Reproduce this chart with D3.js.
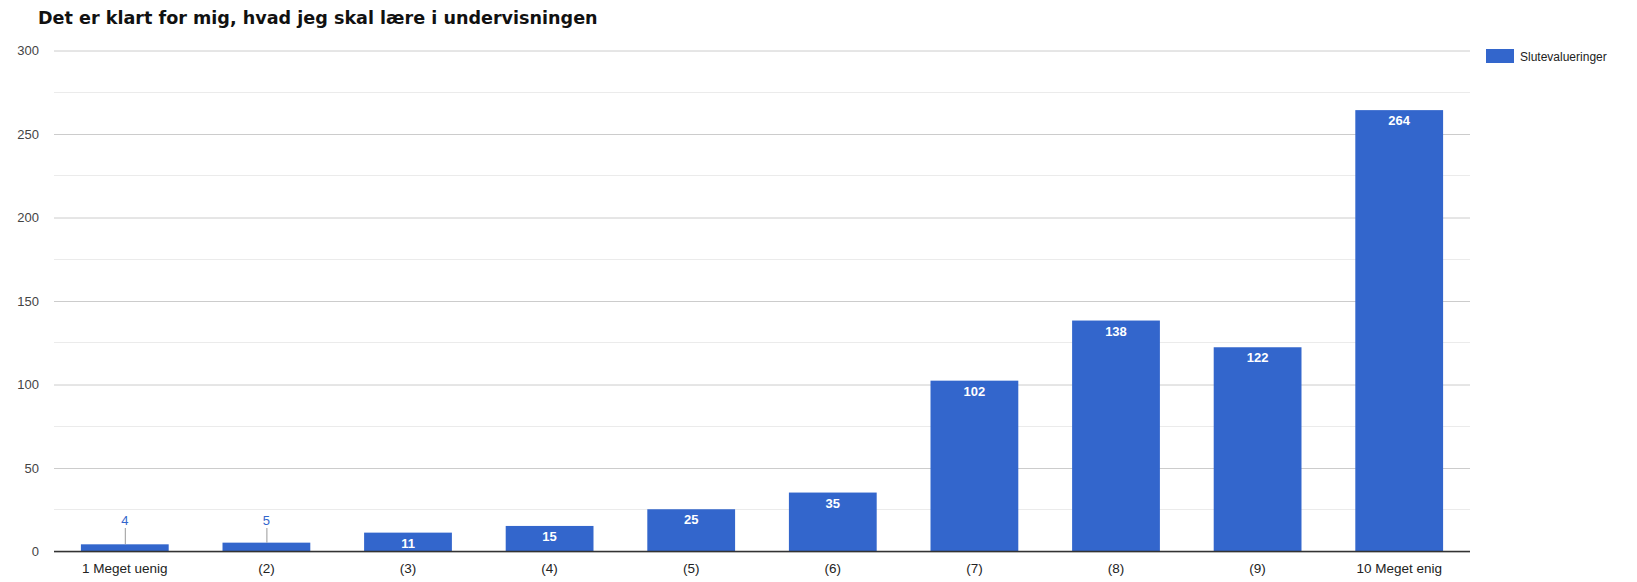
<!DOCTYPE html>
<html>
<head>
<meta charset="utf-8">
<script src="https://cdn.jsdelivr.net/npm/d3@7"></script>
<style>
  html, body { margin: 0; padding: 0; background: #fff; }
  svg { display: block; }
</style>
</head>
<body>
<svg id="chart" width="1637" height="582"></svg>
<script>
const chartTitle = "Det er klart for mig, hvad jeg skal lære i undervisningen";
const categories = ["1 Meget uenig", "(2)", "(3)", "(4)", "(5)", "(6)", "(7)", "(8)", "(9)", "10 Meget enig"];
const seriesName = "Slutevalueringer";
const values = [4, 5, 11, 15, 25, 35, 102, 138, 122, 264];
const yTicks = [0, 50, 100, 150, 200, 250, 300];
const yMinorTicks = [25, 75, 125, 175, 225, 275];

const svg = d3.select("#chart");
const margin = { left: 54, right: 167, top: 50, bottom: 31 };
const W = 1637, H = 582;
const barColor = "#3366cc";
const font = "'Liberation Sans', Arial, sans-serif";

const x = d3.scaleBand().domain(categories)
  .range([margin.left, W - margin.right])
  .paddingInner(0.38).paddingOuter(0.19);
const y = d3.scaleLinear().domain([0, 300]).range([H - margin.bottom, margin.top]);

// minor gridlines
svg.append("g").selectAll("line").data(yMinorTicks).join("line")
  .attr("x1", margin.left).attr("x2", W - margin.right)
  .attr("y1", d => Math.round(y(d)) + 0.5).attr("y2", d => Math.round(y(d)) + 0.5)
  .attr("stroke", "#ebebeb").attr("stroke-width", 1);

// major gridlines + labels via axis
const yAxis = d3.axisLeft(y).tickValues(yTicks).tickSize(-(W - margin.left - margin.right)).tickPadding(15);
const gy = svg.append("g").attr("transform", `translate(${margin.left},0)`).call(yAxis);
gy.select(".domain").remove();
gy.selectAll(".tick line").attr("stroke", "#cccccc").attr("stroke-width", 1)
  .attr("transform", "translate(0,0.5)");
gy.selectAll(".tick text").attr("font-family", font).attr("font-size", 13).attr("fill", "#444")
  .attr("dy", "0.36em");

// bars
svg.append("g").selectAll("rect").data(values).join("rect")
  .attr("x", (d, i) => x(categories[i]))
  .attr("width", x.bandwidth())
  .attr("y", d => y(d))
  .attr("height", d => y(0) - y(d))
  .attr("fill", barColor);

// baseline
svg.append("line")
  .attr("x1", margin.left).attr("x2", W - margin.right)
  .attr("y1", y(0) + 0.5).attr("y2", y(0) + 0.5)
  .attr("stroke", "#333").attr("stroke-width", 1.5);

// data labels
const lbl = svg.append("g");
values.forEach((v, i) => {
  const cx = x(categories[i]) + x.bandwidth() / 2;
  if (y(0) - y(v) >= 17) {
    lbl.append("text").attr("x", cx).attr("y", y(v) + 15)
      .attr("text-anchor", "middle").attr("font-family", font).attr("font-size", 13)
      .attr("font-weight", "bold").attr("fill", "#fff").text(v);
  } else {
    lbl.append("line").attr("x1", cx + 0.5).attr("x2", cx + 0.5)
      .attr("y1", y(v)).attr("y2", y(0) - 23)
      .attr("stroke", "#999").attr("stroke-width", 1);
    lbl.append("text").attr("x", cx).attr("y", y(0) - 26)
      .attr("text-anchor", "middle").attr("font-family", font).attr("font-size", 13)
      .attr("fill", barColor).text(v);
  }
});

// x labels
const xAxis = d3.axisBottom(x).tickSize(0).tickPadding(12);
const gx = svg.append("g").attr("transform", `translate(0,${y(0)})`).call(xAxis);
gx.select(".domain").remove();
gx.selectAll(".tick text").attr("font-family", font).attr("font-size", 13.5).attr("fill", "#222");

// legend
svg.append("rect").attr("x", 1486).attr("y", 49).attr("width", 28).attr("height", 14).attr("fill", barColor);
svg.append("text").attr("x", 1520).attr("y", 61).attr("font-family", font).attr("font-size", 12)
  .attr("fill", "#222").text(seriesName);

// title
const t = svg.append("text").attr("x", 38).attr("y", 24)
  .attr("font-family", "'DejaVu Sans', Verdana, sans-serif").attr("font-weight", "bold")
  .attr("font-size", 16).attr("fill", "#111").text(chartTitle);
const tw = t.node().getComputedTextLength();
t.attr("font-size", 16 * 560 / tw);
</script>
</body>
</html>
